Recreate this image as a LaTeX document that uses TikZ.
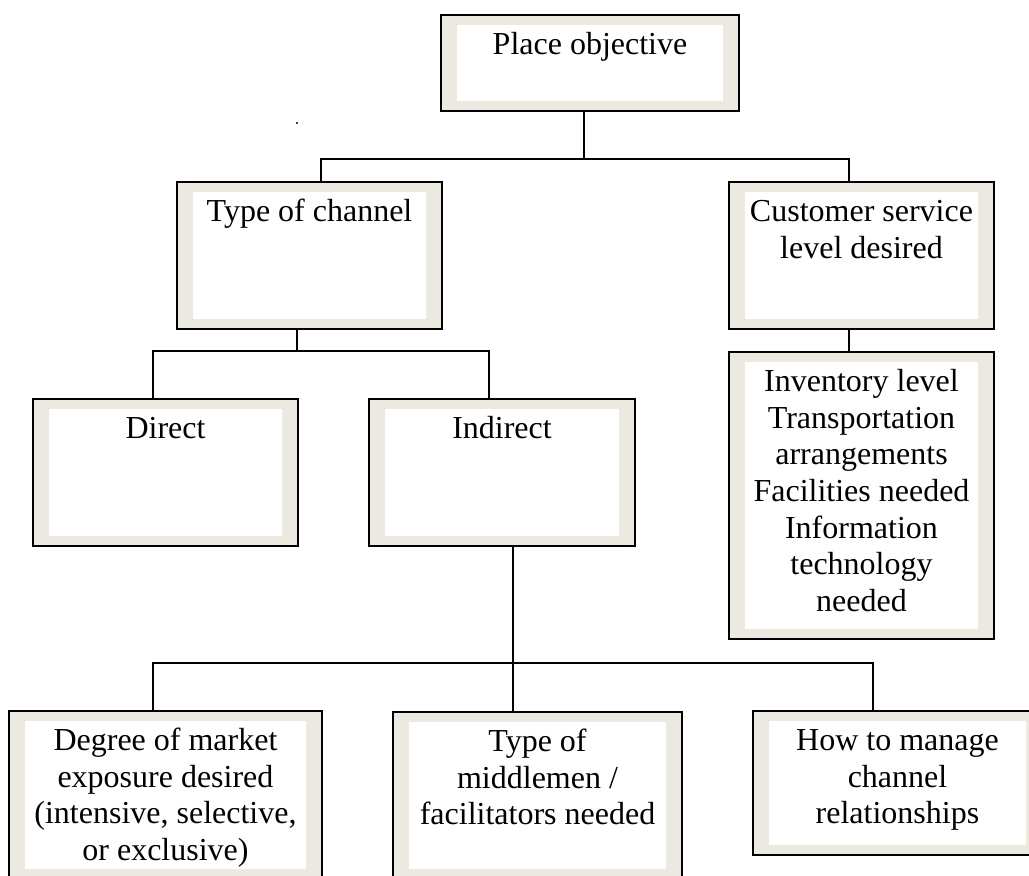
\documentclass[tikz,border=0pt]{standalone}
\usepackage{fontspec}
\setmainfont{Liberation Serif}
\usetikzlibrary{fit}
\definecolor{framecol}{RGB}{236,233,224}
\tikzset{
  frame/.style={draw, line width=1pt, fill=framecol, inner sep=0pt,
    path picture={\fill[white]
      ([xshift=8pt,yshift=-5pt]path picture bounding box.north west) rectangle
      ([xshift=-8pt,yshift=5pt]path picture bounding box.south east);}},
  lbl/.style={font=\fontsize{16}{18.35}\selectfont, align=center, anchor=north, inner sep=0pt},
  link/.style={line width=1pt}
}
% framed box: name, x1, y1, x2, y2, text (first baseline 20pt below the top edge)
\newcommand\mkframe[6]{%
  \path (#2,#3) coordinate (#1-nw) (#4,#5) coordinate (#1-se);
  \node[frame, fit=(#1-nw)(#1-se)] (#1) {};
  \node[lbl] (#1-txt) at ([yshift=-7.155pt]#1.north) {\strut #6};
}
\begin{document}
\begin{tikzpicture}[x=0.5pt, y=-0.5pt]
\useasboundingbox (0,0) rectangle (1029,875);
\clip (0,0) rectangle (1029,875);
\fill[white] (0,0) rectangle (1029,875);

\mkframe{place}{441}{15}{739}{111}{Place objective}
\mkframe{tchan}{177}{182}{442}{329}{Type of channel}
\mkframe{csl}{729}{182}{994}{329}{Customer service\\level desired}
\mkframe{inv}{729}{352}{994}{639}{Inventory level\\Transportation\\arrangements\\Facilities needed\\Information\\technology\\needed}
\mkframe{direct}{33}{399}{298}{546}{Direct}
\mkframe{indirect}{369}{399}{635}{546}{Indirect}
\mkframe{degree}{9}{711}{322}{879}{Degree of market\\exposure desired\\(intensive, selective,\\or exclusive)}
\mkframe{mid}{393}{712}{682}{879}{Type of\\middlemen /\\facilitators needed}
\mkframe{how}{753}{711}{1042}{855}{How to manage\\channel\\relationships}

% junction points of the connector buses
\coordinate (j1) at (584,159);
\coordinate (j1l) at (321,159);
\coordinate (j1r) at (849,159);
\coordinate (j2) at (297,351);
\coordinate (j2l) at (153,351);
\coordinate (j2r) at (489,351);
\coordinate (j3) at (513,663);
\coordinate (j3l) at (153,663);
\coordinate (j3r) at (873,663);

\draw[link] (place.south -| j1) -- (j1);
\draw[link] (tchan.north -| j1l) -- (j1l) -- (j1r) -- (csl.north -| j1r);
\draw[link] (csl.south -| j1r) -- (inv.north -| j1r);
\draw[link] (tchan.south -| j2) -- (j2);
\draw[link] (direct.north -| j2l) -- (j2l) -- (j2r) -- (indirect.north -| j2r);
\draw[link] (indirect.south -| j3) -- (j3);
\draw[link] (degree.north -| j3l) -- (j3l) -- (j3r) -- (how.north -| j3r);
\draw[link] (j3) -- (mid.north -| j3);

% stray dot
\fill (297,123) circle (1.2);
\end{tikzpicture}
\end{document}
